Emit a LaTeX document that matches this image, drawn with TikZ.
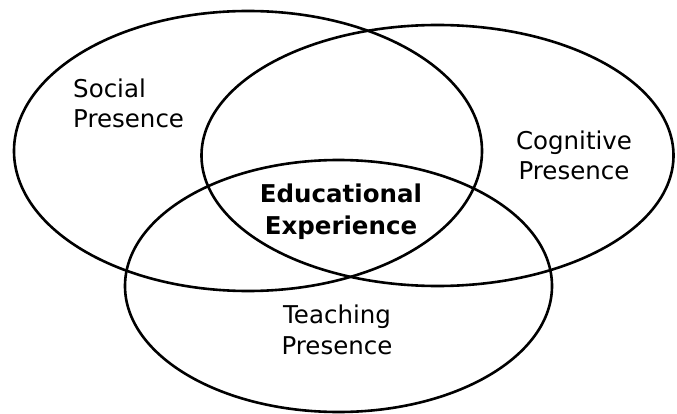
\documentclass[tikz,border=0pt]{standalone}
\usepackage{fontspec}
\setmainfont{DejaVu Sans}
\begin{document}
\begin{tikzpicture}[x=1pt,y=-1pt,
  ring/.style={draw=black,line width=2.6pt},
  label/.style={inner sep=0pt,font=\fontsize{24.5pt}{30.5pt}\selectfont},
  core/.style={label,font=\fontsize{24.5pt}{32pt}\selectfont\bfseries}]
\useasboundingbox (0,0) rectangle (677,414);
\draw[ring] (248,151) ellipse [x radius=234pt, y radius=140pt];
\draw[ring] (437.5,155.5) ellipse [x radius=236pt, y radius=130.5pt];
\draw[ring] (338.5,286) ellipse [x radius=213.5pt, y radius=126pt];
\node[label,align=left,anchor=base west] (social) at (73,128) {Social\\Presence};
\node[label,align=center,anchor=base] (cognitive) at (574,180) {Cognitive\\Presence};
\node[core,align=center,anchor=base] (edu) at (341,234) {Educational\\Experience};
\node[label,align=center,anchor=base] (teaching) at (337,354) {Teaching\\Presence};
\end{tikzpicture}
\end{document}
